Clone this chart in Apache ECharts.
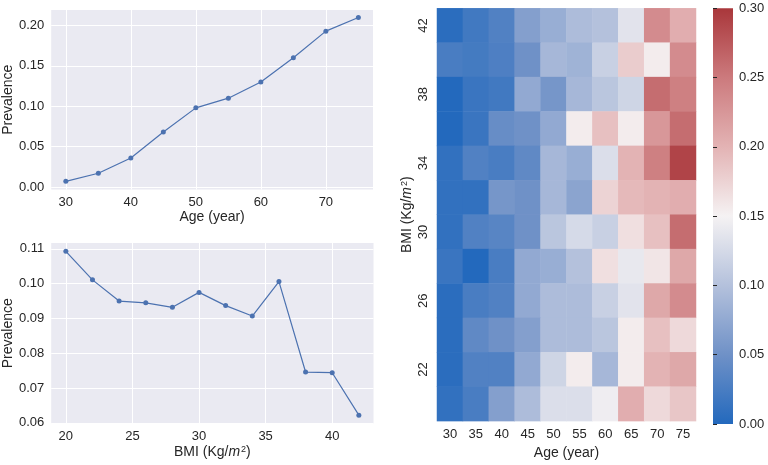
<!DOCTYPE html>
<html>
<head>
<meta charset="utf-8">
<script src="https://cdn.jsdelivr.net/npm/echarts@6/dist/echarts.min.js"></script>
<style>html,body{margin:0;padding:0;background:#fff}#c{width:768px;height:465px}</style>
</head>
<body>
<div id="c"></div>
<script>
// ---- data ----
const ageVals = [30, 35, 40, 45, 50, 55, 60, 65, 70, 75];
const prevByAge = [0.007, 0.017, 0.036, 0.068, 0.098, 0.110, 0.130, 0.160, 0.193, 0.210];
const bmiVals = [20, 22, 24, 26, 28, 30, 32, 34, 36, 38, 40, 42];
const prevByBmi = [0.1093, 0.1011, 0.0950, 0.0945, 0.0932, 0.0975, 0.0937, 0.0907, 0.1006, 0.0746, 0.0744, 0.0622];
const ageTicks = [30, 40, 50, 60, 70];
const prevAgeTicks = [0, 0.05, 0.10, 0.15, 0.20];
const bmiTicks = [20, 25, 30, 35, 40];
const prevBmiTicks = [0.06, 0.07, 0.08, 0.09, 0.10, 0.11];
const colorbarTicks = [0, 0.05, 0.10, 0.15, 0.20, 0.25, 0.30];
const heatAgeCats = ['30', '35', '40', '45', '50', '55', '60', '65', '70', '75'];
const heatBmiCats = ['20', '22', '24', '26', '28', '30', '32', '34', '36', '38', '40', '42'];
// rows from BMI 42 (top) down to BMI 20 (bottom); columns age 30..75
const heatRows = [
  [0.005, 0.020, 0.030, 0.065, 0.080, 0.095, 0.100, 0.135, 0.235, 0.205],
  [0.025, 0.022, 0.028, 0.050, 0.090, 0.085, 0.115, 0.180, 0.155, 0.235],
  [0.000, 0.015, 0.020, 0.075, 0.055, 0.090, 0.105, 0.120, 0.260, 0.245],
  [0.000, 0.015, 0.045, 0.050, 0.075, 0.155, 0.190, 0.155, 0.225, 0.260],
  [0.010, 0.030, 0.025, 0.040, 0.090, 0.080, 0.130, 0.200, 0.245, 0.290],
  [0.010, 0.010, 0.055, 0.050, 0.090, 0.070, 0.175, 0.195, 0.200, 0.205],
  [0.010, 0.030, 0.035, 0.050, 0.105, 0.125, 0.115, 0.165, 0.190, 0.260],
  [0.015, 0.000, 0.025, 0.075, 0.080, 0.100, 0.165, 0.140, 0.160, 0.210],
  [0.005, 0.025, 0.030, 0.075, 0.095, 0.095, 0.115, 0.135, 0.210, 0.235],
  [0.005, 0.040, 0.050, 0.065, 0.095, 0.095, 0.105, 0.155, 0.190, 0.170],
  [0.005, 0.030, 0.030, 0.075, 0.120, 0.155, 0.090, 0.155, 0.200, 0.210],
  [0.010, 0.025, 0.065, 0.095, 0.130, 0.130, 0.145, 0.205, 0.170, 0.185]
];
const cmapColors = ['#2369bd', '#6f91c7', '#b4c1dc', '#f5f2f3', '#e3b3b4', '#cc7a7d', '#a9373b'];

// ---- build ----
const FONT = 'Liberation Sans';
const TXT = '#262626';
const BG = '#eaeaf2';
const LINE = '#4c72b0';

const heatData = [];
heatRows.forEach((row, r) => {
  const yi = heatBmiCats.length - 1 - r;
  row.forEach((v, c) => heatData.push([c, yi, v]));
});

const nameRich = {
  i: { fontStyle: 'italic', fontSize: 14, fontFamily: FONT, color: TXT },
  s: { fontSize: 9, fontFamily: FONT, color: TXT, verticalAlign: 'top', lineHeight: 10, padding: [0, 0, 6, 1] }
};
const bmiName = 'BMI (Kg/{i|m}{s|2})';

function lineXAxis(gi, min, max, ticks, name, gap) {
  return {
    type: 'value', gridIndex: gi, min: min, max: max,
    axisLine: { show: false }, axisTick: { show: false, customValues: ticks },
    axisLabel: { customValues: ticks, color: TXT, fontSize: 13, fontFamily: FONT, margin: 6 },
    splitLine: { show: true, lineStyle: { color: '#ffffff', width: 1 } },
    name: name, nameLocation: 'middle', nameGap: gap,
    nameTextStyle: { color: TXT, fontSize: 14, fontFamily: FONT, rich: nameRich }
  };
}
function lineYAxis(gi, min, max, ticks) {
  return {
    type: 'value', gridIndex: gi, min: min, max: max,
    axisLine: { show: false }, axisTick: { show: false, customValues: ticks },
    axisLabel: { customValues: ticks, color: TXT, fontSize: 13, fontFamily: FONT, margin: 7,
      formatter: v => v.toFixed(2) },
    splitLine: { show: true, lineStyle: { color: '#ffffff', width: 1 } },
    name: 'Prevalence', nameLocation: 'middle', nameGap: 33, nameRotate: 90,
    nameTextStyle: { color: TXT, fontSize: 14, fontFamily: FONT }
  };
}

const CB = { left: 713, top: 8.3, width: 20, height: 415.7 };

const option = {
  animation: false,
  backgroundColor: '#ffffff',
  grid: [
    { left: 50, top: 10, width: 323, height: 179.5, backgroundColor: BG, show: true, borderWidth: 0 },
    { left: 50, top: 243, width: 323.5, height: 180.5, backgroundColor: BG, show: true, borderWidth: 0 },
    { left: 437, top: 8.3, width: 259, height: 415 },
    { left: CB.left, top: CB.top, width: CB.width, height: CB.height }
  ],
  xAxis: [
    lineXAxis(0, 27.75, 77.25, ageTicks, 'Age (year)', 21),
    lineXAxis(1, 18.9, 43.1, bmiTicks, bmiName, 22),
    {
      type: 'category', gridIndex: 2, data: heatAgeCats,
      axisLine: { show: false }, axisTick: { show: false },
      axisLabel: { color: TXT, fontSize: 13, fontFamily: FONT, margin: 7 },
      name: 'Age (year)', nameLocation: 'middle', nameGap: 21,
      nameTextStyle: { color: TXT, fontSize: 14, fontFamily: FONT }
    },
    { type: 'value', gridIndex: 3, show: false, min: 0, max: 1,
      axisLine: { show: false }, axisTick: { show: false }, axisLabel: { show: false }, splitLine: { show: false } }
  ],
  yAxis: [
    lineYAxis(0, -0.0031, 0.2192, prevAgeTicks),
    lineYAxis(1, 0.0598, 0.1117, prevBmiTicks),
    {
      type: 'category', gridIndex: 2, data: heatBmiCats,
      axisLine: { show: false }, axisTick: { show: false },
      axisLabel: { color: TXT, fontSize: 13, fontFamily: FONT, margin: 7, rotate: 90,
        interval: (idx) => idx % 2 === 1 },
      splitLine: { show: false },
      name: bmiName, nameLocation: 'middle', nameGap: 23, nameRotate: 90,
      nameTextStyle: { color: TXT, fontSize: 14, fontFamily: FONT, rich: nameRich }
    },
    {
      type: 'value', gridIndex: 3, position: 'right', min: 0, max: 0.3,
      axisLine: { show: false },
      axisTick: { show: true, length: 4, customValues: colorbarTicks, lineStyle: { color: TXT, width: 1 } },
      axisLabel: { customValues: colorbarTicks, color: TXT, fontSize: 13, fontFamily: FONT, margin: 6,
        formatter: v => v.toFixed(2) },
      splitLine: { show: false }, splitArea: { show: false }
    }
  ],
  visualMap: {
    type: 'continuous', show: false, seriesIndex: 2, dimension: 2, min: 0, max: 0.3,
    inRange: { color: cmapColors }
  },
  graphic: [{
    type: 'rect', z: 0, silent: true,
    shape: { x: CB.left, y: CB.top, width: CB.width, height: CB.height },
    style: {
      fill: new echarts.graphic.LinearGradient(0, 1, 0, 0,
        cmapColors.map((c, i) => ({ offset: i / (cmapColors.length - 1), color: c })))
    }
  }],
  series: [
    {
      type: 'line', xAxisIndex: 0, yAxisIndex: 0,
      data: ageVals.map((a, i) => [a, prevByAge[i]]),
      symbol: 'circle', symbolSize: 5, itemStyle: { color: LINE },
      lineStyle: { color: LINE, width: 1.2 }
    },
    {
      type: 'line', xAxisIndex: 1, yAxisIndex: 1,
      data: bmiVals.map((b, i) => [b, prevByBmi[i]]),
      symbol: 'circle', symbolSize: 5, itemStyle: { color: LINE },
      lineStyle: { color: LINE, width: 1.2 }
    },
    {
      type: 'heatmap', xAxisIndex: 2, yAxisIndex: 2, data: heatData,
      itemStyle: { borderWidth: 0 }
    }
  ]
};

echarts.init(document.getElementById('c'), null, { renderer: 'canvas' }).setOption(option);
</script>
</body>
</html>
